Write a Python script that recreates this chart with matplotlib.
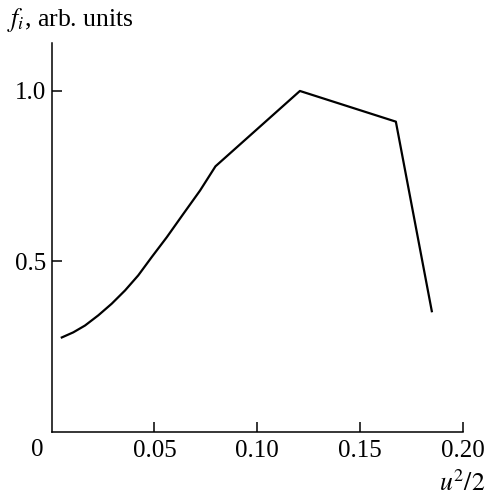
import matplotlib
matplotlib.use("Agg")
import matplotlib.pyplot as plt

# f_i versus u^2/2
u2_half = [0.0049, 0.0105, 0.0162, 0.0227, 0.0292, 0.0357, 0.0421, 0.0487,
           0.056, 0.064, 0.0722, 0.0797, 0.1208, 0.1675, 0.185]
f_i = [0.277, 0.292, 0.312, 0.342, 0.376, 0.415, 0.459, 0.513,
       0.571, 0.639, 0.708, 0.779, 1.0, 0.910, 0.354]

x_ticks = [0.05, 0.10, 0.15, 0.20]
x_tick_labels = ["0.05", "0.10", "0.15", "0.20"]
y_ticks = [0.5, 1.0]
y_tick_labels = ["0.5", "1.0"]

plt.rcParams["font.family"] = ["Liberation Serif", "DejaVu Serif"]
plt.rcParams["mathtext.fontset"] = "stix"

fig = plt.figure(figsize=(4.88, 4.97), dpi=100)
ax = fig.add_axes([0.106, 0.131, 0.842, 0.782])

ax.plot(u2_half, f_i, color="black", lw=1.6, solid_joinstyle="round")

ax.set_xlim(0, 0.20)
ax.set_ylim(0, 1.14)
for s in ("top", "right"):
    ax.spines[s].set_visible(False)
for s in ("left", "bottom"):
    ax.spines[s].set_linewidth(1.1)

ax.set_xticks(x_ticks)
ax.set_xticklabels(x_tick_labels)
ax.set_yticks(y_ticks)
ax.set_yticklabels(y_tick_labels)
ax.tick_params(direction="in", length=7, width=1.1, labelsize=18, pad=6)
ax.tick_params(axis="y", pad=4)

ax.text(-0.0042, -0.053, "0", transform=ax.transData, ha="right", va="center",
        fontsize=18)

fig.text(0.994, 0.012, r"$u^2/2$", ha="right", va="baseline", fontsize=18.5)
fig.text(0.015, 0.948, r"$f_i$, arb. units", ha="left", va="baseline", fontsize=18.5)

fig.savefig("out.png", dpi=100)
